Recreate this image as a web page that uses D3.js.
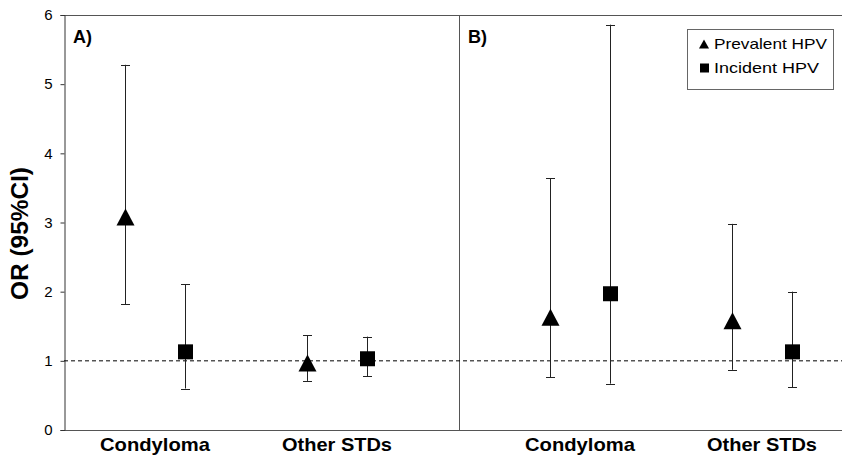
<!DOCTYPE html>
<html>
<head>
<meta charset="utf-8">
<script src="https://cdn.jsdelivr.net/npm/d3@7"></script>
<style>
  body { margin: 0; background: #fff; }
  text { font-family: Arial, "Liberation Sans", sans-serif; fill: #000; }
</style>
</head>
<body>
<svg id="chart" width="842" height="457"></svg>
<script>
// data
const categories = ["Condyloma", "Other STDs"]
const series = ["Prevalent HPV", "Incident HPV"]
const panels = ["A)", "B)"]
const yTicks = [0, 1, 2, 3, 4, 5, 6]

// one entry per marker
const pointPanel = ["A)", "A)", "A)", "A)", "B)", "B)", "B)", "B)"]
const pointCategory = ["Condyloma", "Condyloma", "Other STDs", "Other STDs", "Condyloma", "Condyloma", "Other STDs", "Other STDs"]
const pointSeries = ["Prevalent HPV", "Incident HPV", "Prevalent HPV", "Incident HPV", "Prevalent HPV", "Incident HPV", "Prevalent HPV", "Incident HPV"]
const pointOR = [3.08, 1.13, 0.97, 1.03, 1.63, 1.97, 1.58, 1.13]
const pointLow = [1.82, 0.60, 0.71, 0.78, 0.76, 0.67, 0.87, 0.62]
const pointHigh = [5.28, 2.11, 1.37, 1.35, 3.64, 5.86, 2.98, 2.00]

const svg = d3.select("#chart")
const mLeft = 64, mRight = 842, mTop = 15, mBottom = 430, divider = 459

let y = d3.scaleLinear().domain([0, 6]).range([mBottom, mTop])

//each panel has its own category scale
let xPanel = {
  "A)": d3.scalePoint().domain(categories).range([155, 337]),
  "B)": d3.scalePoint().domain(categories).range([580, 762])
}
let xSeries = d3.scalePoint().domain(series).range([-30, 30])

//frame
let frame = svg.append("g").attr("stroke", "#555").attr("stroke-width", 1)
frame.append("line").attr("x1", mLeft).attr("x2", mRight).attr("y1", mTop + 0.5).attr("y2", mTop + 0.5)
frame.append("line").attr("x1", mLeft).attr("x2", mRight).attr("y1", mBottom + 0.5).attr("y2", mBottom + 0.5)
frame.append("line").attr("x1", divider + 0.5).attr("x2", divider + 0.5).attr("y1", mTop).attr("y2", mBottom)

//y axis
let yAxis = svg.append("g")
  .attr("transform", `translate(${mLeft + 0.5},0)`)
  .call(d3.axisLeft(y).tickValues(yTicks).tickFormat(d3.format("d")).tickSize(4).tickPadding(8))
yAxis.select(".domain").attr("stroke", "#333")
yAxis.selectAll(".tick line").attr("stroke", "#333")
yAxis.selectAll(".tick text").attr("font-size", 15).attr("font-family", "Arial, 'Liberation Sans', sans-serif")

svg.append("text")
  .attr("transform", `translate(28,${(mTop + mBottom) / 2 + 11}) rotate(-90)`)
  .attr("text-anchor", "middle")
  .attr("font-size", 23).attr("font-weight", "bold")
  .attr("textLength", 133).attr("lengthAdjust", "spacingAndGlyphs")
  .text("OR (95%CI)")

//reference line at OR = 1
svg.append("line")
  .attr("x1", mLeft).attr("x2", mRight)
  .attr("y1", y(1)).attr("y2", y(1))
  .attr("stroke", "#000").attr("stroke-width", 1).attr("stroke-dasharray", "4,3")

//panel labels
svg.selectAll(".panel").data(panels).enter().append("text")
  .attr("x", (d, i) => i === 0 ? mLeft + 9 : divider + 9)
  .attr("y", 43)
  .attr("font-size", 18).attr("font-weight", "bold")
  .text(d => d)

//category labels
panels.forEach(p => {
  svg.selectAll(null).data(categories).enter().append("text")
    .attr("x", d => xPanel[p](d))
    .attr("y", 451)
    .attr("text-anchor", "middle")
    .attr("font-size", 19).attr("font-weight", "bold")
    .attr("textLength", 110).attr("lengthAdjust", "spacingAndGlyphs")
    .text(d => d)
})

//points
let points = d3.range(pointOR.length).map(i => ({
  x: xPanel[pointPanel[i]](pointCategory[i]) + xSeries(pointSeries[i]),
  or: pointOR[i], lo: pointLow[i], hi: pointHigh[i], s: pointSeries[i]
}))

let gBars = svg.append("g").attr("stroke", "#222").attr("stroke-width", 1)
gBars.selectAll("line.v").data(points).enter().append("line")
  .attr("x1", d => Math.round(d.x) + 0.5).attr("x2", d => Math.round(d.x) + 0.5)
  .attr("y1", d => y(d.hi)).attr("y2", d => y(d.lo))
gBars.selectAll("line.hi").data(points).enter().append("line")
  .attr("x1", d => d.x - 4).attr("x2", d => d.x + 5)
  .attr("y1", d => Math.round(y(d.hi)) + 0.5).attr("y2", d => Math.round(y(d.hi)) + 0.5)
gBars.selectAll("line.lo").data(points).enter().append("line")
  .attr("x1", d => d.x - 4).attr("x2", d => d.x + 5)
  .attr("y1", d => Math.round(y(d.lo)) + 0.5).attr("y2", d => Math.round(y(d.lo)) + 0.5)

function triangle(cx, cy, w, h) {
  return `M${cx},${cy - h / 2}L${cx + w / 2},${cy + h / 2}L${cx - w / 2},${cy + h / 2}Z`
}

svg.append("g").selectAll("path").data(points).enter().append("path")
  .attr("fill", "#000")
  .attr("d", d => {
    let cx = Math.round(d.x) + 0.5, cy = y(d.or)
    if (d.s === "Prevalent HPV") return triangle(cx, cy, 18, 17)
    return `M${cx - 7.5},${cy - 7.5}h15v15h-15Z`
  })

//legend
let lg = svg.append("g")
lg.append("rect").attr("x", 687.5).attr("y", 29.5).attr("width", 146).attr("height", 60)
  .attr("fill", "#fff").attr("stroke", "#666")
series.forEach((s, i) => {
  let cy = 44 + i * 24
  lg.append("path").attr("fill", "#000")
    .attr("d", i === 0 ? triangle(704, cy, 10, 9) : `M700,${cy - 4.5}h9v9h-9Z`)
  lg.append("text").attr("x", 714).attr("y", cy + 5)
    .attr("font-size", 15)
    .attr("textLength", i === 0 ? 113 : 105).attr("lengthAdjust", "spacingAndGlyphs")
    .text(s)
})
</script>
</body>
</html>
